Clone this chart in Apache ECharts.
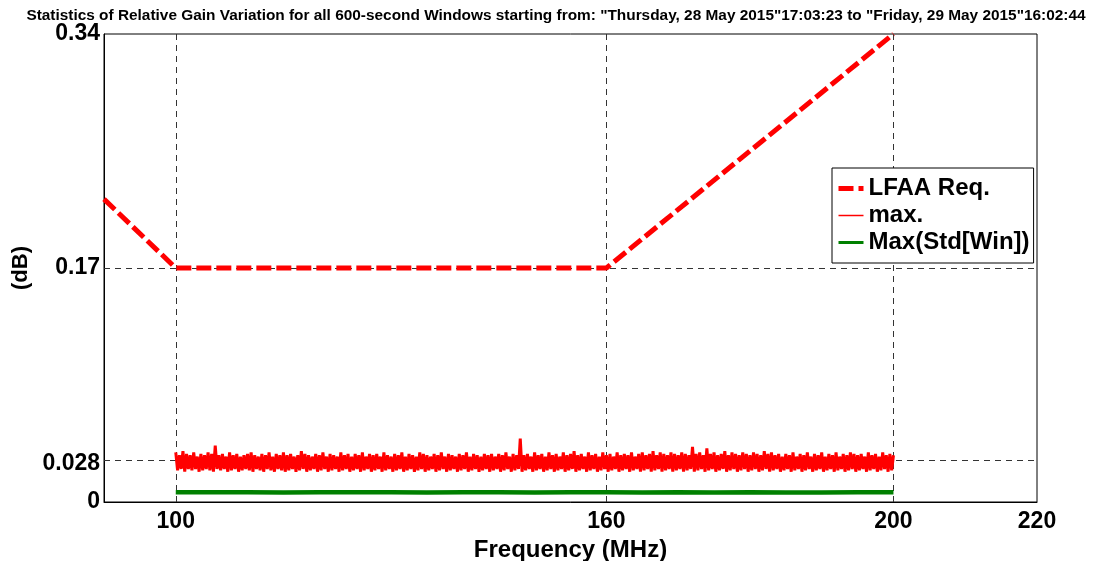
<!DOCTYPE html>
<html><head><meta charset="utf-8">
<script src="https://cdn.jsdelivr.net/npm/echarts@6/dist/echarts.min.js"></script>
<style>html,body{margin:0;padding:0;background:#fff}#c{width:1094px;height:561px}</style>
</head><body><div id="c"></div>
<script>
// ---- data ----
var xTicks = [100, 160, 200, 220];
var yTicks = [0, 0.028, 0.17, 0.34];
var lfaaFreq = [90, 100, 160, 200];
var lfaaVals = [0.22, 0.17, 0.17, 0.34];
var maxStart = 100, maxStep = 0.25;
var maxVals = [
.036,.023,.034,.024,.037,.022,.035,.024,.034,.023,.036,.024,.033,.022,.035,.023,.034,.024,.036,.023,
.035,.022,.041,.024,.034,.023,.035,.024,.033,.022,.036,.023,.034,.024,.035,.022,.033,.023,.034,.024,
.035,.023,.036,.022,.034,.024,.033,.023,.035,.022,.034,.024,.036,.023,.033,.022,.035,.024,.034,.023,
.036,.022,.034,.023,.035,.024,.033,.022,.034,.023,.037,.024,.035,.022,.034,.023,.033,.024,.035,.022,
.034,.023,.036,.024,.033,.022,.035,.023,.034,.024,.033,.022,.036,.023,.034,.024,.035,.022,.033,.023,
.035,.024,.034,.022,.036,.023,.033,.024,.035,.022,.034,.023,.035,.024,.033,.022,.036,.023,.034,.024,
.033,.022,.035,.023,.034,.024,.036,.022,.033,.023,.035,.024,.034,.022,.033,.023,.036,.024,.035,.022,
.034,.023,.033,.024,.035,.022,.034,.023,.036,.024,.033,.022,.035,.023,.034,.024,.033,.022,.035,.023,
.034,.024,.036,.022,.033,.023,.035,.024,.034,.022,.033,.023,.035,.024,.034,.022,.035,.023,.033,.024,
.035,.022,.034,.023,.036,.024,.033,.022,.035,.023,.034,.024,.046,.022,.034,.023,.035,.024,.033,.022,
.036,.023,.034,.024,.035,.022,.033,.023,.036,.024,.034,.022,.035,.023,.033,.024,.036,.022,.034,.023,
.035,.024,.037,.022,.034,.023,.035,.024,.033,.022,.036,.023,.034,.024,.035,.022,.033,.023,.036,.024,
.034,.022,.035,.023,.033,.024,.036,.022,.034,.023,.035,.024,.034,.022,.036,.023,.033,.024,.035,.022,
.036,.023,.034,.024,.035,.022,.037,.023,.034,.024,.036,.022,.035,.023,.034,.024,.036,.022,.035,.023,
.034,.024,.036,.022,.035,.023,.034,.024,.040,.022,.035,.023,.036,.024,.034,.022,.039,.023,.035,.024,
.036,.022,.034,.023,.035,.024,.037,.022,.034,.023,.036,.024,.035,.022,.034,.023,.036,.024,.035,.022,
.034,.023,.036,.024,.035,.022,.034,.023,.037,.024,.035,.022,.036,.023,.034,.024,.035,.022,.033,.023,
.035,.024,.034,.022,.036,.023,.033,.024,.035,.022,.034,.023,.036,.024,.033,.022,.035,.023,.034,.024,
.036,.022,.033,.023,.035,.024,.034,.022,.036,.023,.033,.024,.035,.022,.034,.023,.036,.024,.035,.022,
.034,.023,.035,.024,.033,.022,.036,.023,.034,.024,.035,.022,.033,.023,.036,.024,.034,.022,.035,.023,
.034
];
var stdFreq = [100,105,110,115,120,125,130,135,140,145,150,155,160,165,170,175,180,185,190,195,200];
var stdVals = [0.0071,0.0070,0.0071,0.0069,0.0070,0.0071,0.0070,0.0069,0.0070,0.0070,0.0069,0.0070,0.0070,0.0069,0.0070,0.0069,0.0070,0.0069,0.0069,0.0070,0.0070];

// ---- build ----
function zip(xs, ys){ return xs.map(function(x,i){ return [x, ys[i]]; }); }
var maxData = maxVals.map(function(v,i){ return [maxStart + i*maxStep, v]; });
var FONT = "'Liberation Sans', Arial, sans-serif";
var hideSym = {opacity: 0};

var chart = echarts.init(document.getElementById('c'), null, {renderer:'canvas'});
chart.setOption({
  animation: false,
  backgroundColor: '#fff',
  title: {
    text: 'Statistics of Relative Gain Variation for all 600-second Windows starting from: "Thursday, 28 May 2015"17:03:23 to "Friday, 29 May 2015"16:02:44',
    left: 551, top: 3, textAlign: 'center',
    textStyle: {fontFamily: FONT, fontWeight:'bold', fontSize: 15.4, color:'#000'}
  },
  grid: {left: 104, right: 57, top: 34, bottom: 59, show: true, borderColor:'#000', borderWidth:1,
    backgroundColor:'#fff', outerBoundsMode: 'none', containLabel: false},
  legend: {
    orient: 'vertical', left: 832, top: 168, z: 10,
    backgroundColor: '#fff', borderColor: '#000', borderWidth: 1,
    padding: [7, 4, 7, 4], itemGap: 0, itemWidth: 25, itemHeight: 14,
    textStyle: {fontFamily: FONT, fontWeight:'bold', fontSize: 24, color:'#000', lineHeight: 27},
    data: [
      {name:'LFAA Req.', itemStyle: hideSym, lineStyle:{color:'#ff0000', width:5, type:[15,5]}},
      {name:'max.', itemStyle: hideSym, lineStyle:{color:'#ff0000', width:1.5, type:'solid'}},
      {name:'Max(Std[Win])', itemStyle: hideSym, lineStyle:{color:'#008000', width:3}}
    ]
  },
  xAxis: {
    type:'value', min: 90, max: 220,
    name: 'Frequency (MHz)', nameLocation:'middle', nameGap: 22,
    nameTextStyle: {fontFamily: FONT, fontWeight:'bold', fontSize: 24, color:'#000'},
    axisLine: {show:true, lineStyle:{color:'#000', width:1}},
    axisTick: {show:false, customValues: xTicks},
    splitLine: {show:false},
    axisLabel: {customValues: xTicks, margin: 8, fontFamily: FONT, fontWeight:'bold', fontSize: 23, color:'#000',
      formatter: function(v){ return String(v); }}
  },
  yAxis: {
    type:'value', min: 0, max: 0.34,
    name: '(dB)', nameLocation:'middle', nameGap: 68,
    nameTextStyle: {fontFamily: FONT, fontWeight:'bold', fontSize: 22, color:'#000'},
    axisLine: {show:true, lineStyle:{color:'#000', width:1}},
    axisTick: {show:false, customValues: yTicks},
    splitLine: {show:false},
    axisLabel: {customValues: yTicks, margin: 4, fontFamily: FONT, fontWeight:'bold', fontSize: 23, color:'#000',
      formatter: function(v){ return String(v); }}
  },
  series: [
    {
      name: 'grid', type:'line', data: [], z: 1, silent: true,
      markLine: {
        z: 1, silent: true, symbol: 'none', animation: false,
        label: {show:false},
        lineStyle: {color:'#333', width:1, type:[6,5]},
        data: [
          {xAxis: 100}, {xAxis: 160}, {xAxis: 200},
          {yAxis: 0.028}, {yAxis: 0.17}
        ]
      }
    },
    {
      name: 'max.', type:'line', data: maxData, z: 3,
      showSymbol:false, symbol:'none',
      lineStyle: {color:'#ff0000', width:3}, itemStyle:{color:'#ff0000'}
    },
    {
      name: 'Max(Std[Win])', type:'line', data: zip(stdFreq, stdVals), z: 3,
      showSymbol:false, symbol:'none',
      lineStyle: {color:'#008000', width:4.5}, itemStyle:{color:'#008000'}
    },
    {
      name: 'LFAA Req.', type:'line', data: zip(lfaaFreq, lfaaVals), z: 4,
      showSymbol:false, symbol:'none',
      lineStyle: {color:'#ff0000', width:5, type:[15,5]}, itemStyle:{color:'#ff0000'}
    }
  ]
});
</script></body></html>
